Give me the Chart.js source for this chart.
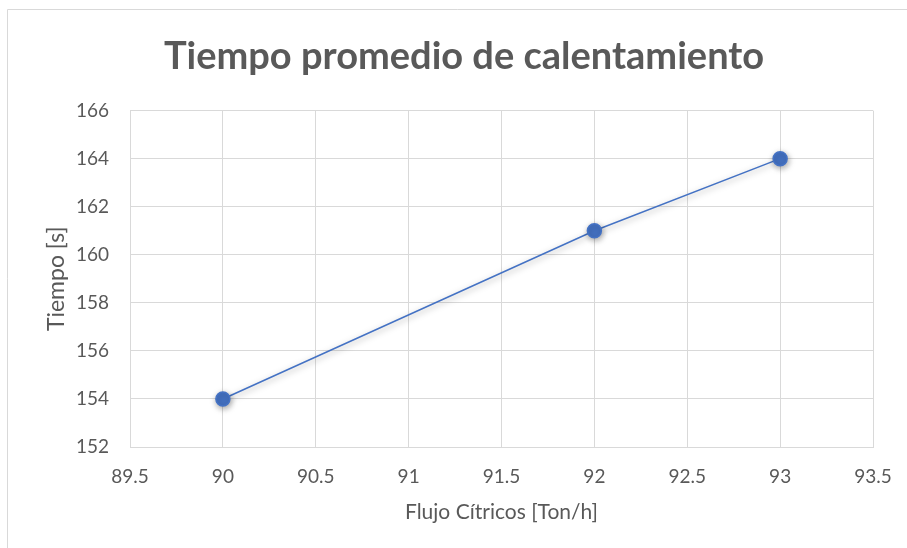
<!DOCTYPE html>
<html>
<head>
<meta charset="utf-8">
<script src="https://cdn.jsdelivr.net/npm/chart.js@4/dist/chart.umd.min.js"></script>
<style>
  html, body { margin: 0; padding: 0; background: #ffffff; }
  canvas { display: block; }
</style>
</head>
<body>
<canvas id="chart" width="907" height="548"></canvas>
<script>
// Flow of citrus vs. average warm-up time
const flujo = [90, 92, 93];
const tiempo = [154, 161, 164];
const xTicks = [89.5, 90, 90.5, 91, 91.5, 92, 92.5, 93, 93.5];
const yTicks = [152, 154, 156, 158, 160, 162, 164, 166];

const textColor = '#595959';
const gridColor = '#d9d9d9';
const seriesColor = '#4472C4';
const fontFamily = 'Lato, "Open Sans", sans-serif';

// Light frame along the top and left edges of the chart
const framePlugin = {
  id: 'frame',
  beforeDraw(chart) {
    const ctx = chart.ctx;
    ctx.save();
    ctx.strokeStyle = gridColor;
    ctx.lineWidth = 1;
    ctx.beginPath();
    ctx.moveTo(7.5, chart.height);
    ctx.lineTo(7.5, 9.5);
    ctx.lineTo(chart.width, 9.5);
    ctx.stroke();
    ctx.restore();
  }
};

// Soft drop shadow under the line and markers
const shadowPlugin = {
  id: 'seriesShadow',
  beforeDatasetDraw(chart) {
    const ctx = chart.ctx;
    ctx.save();
    ctx.shadowColor = 'rgba(0,0,0,0.35)';
    ctx.shadowBlur = 6;
    ctx.shadowOffsetX = 1;
    ctx.shadowOffsetY = 2;
  },
  afterDatasetDraw(chart) {
    chart.ctx.restore();
  }
};

new Chart(document.getElementById('chart'), {
  type: 'scatter',
  data: {
    datasets: [{
      data: flujo.map((x, i) => ({ x: x, y: tiempo[i] })),
      showLine: true,
      borderColor: seriesColor,
      borderWidth: 1.5,
      backgroundColor: seriesColor,
      pointBackgroundColor: seriesColor,
      pointBorderColor: seriesColor,
      pointRadius: 7,
      pointHoverRadius: 7
    }]
  },
  options: {
    responsive: false,
    animation: false,
    events: [],
    layout: { padding: { left: 30, right: 9, top: 34, bottom: 23 } },
    plugins: {
      legend: { display: false },
      tooltip: { enabled: false },
      title: {
        display: true,
        text: 'Tiempo promedio de calentamiento',
        color: textColor,
        font: { family: fontFamily, size: 38, weight: 'bold' },
        padding: { top: 0, bottom: 31 }
      }
    },
    scales: {
      x: {
        type: 'linear',
        min: xTicks[0],
        max: xTicks[xTicks.length - 1],
        afterBuildTicks(axis) { axis.ticks = xTicks.map(v => ({ value: v })); },
        afterFit(axis) { axis.paddingRight = 34; },
        ticks: {
          color: textColor,
          font: { family: fontFamily, size: 19 },
          padding: 18,
          maxRotation: 0,
          callback: v => String(v)
        },
        grid: { color: gridColor, drawTicks: false, lineWidth: 1 },
        border: { color: gridColor },
        title: {
          display: true,
          text: 'Flujo Cítricos [Ton/h]',
          color: textColor,
          font: { family: fontFamily, size: 21 },
          padding: { top: -6, bottom: 0 }
        }
      },
      y: {
        type: 'linear',
        min: yTicks[0],
        max: yTicks[yTicks.length - 1],
        afterBuildTicks(axis) { axis.ticks = yTicks.map(v => ({ value: v })); },
        afterFit(axis) { axis.width = 100; },
        ticks: {
          color: textColor,
          font: { family: fontFamily, size: 19 },
          padding: 21
        },
        grid: { color: gridColor, drawTicks: false, lineWidth: 1 },
        border: { color: gridColor },
        title: {
          display: true,
          text: 'Tiempo [s]',
          color: textColor,
          font: { family: fontFamily, size: 23 },
          padding: { top: 13, bottom: 0 }
        }
      }
    }
  },
  plugins: [framePlugin, shadowPlugin]
});
</script>
</body>
</html>
